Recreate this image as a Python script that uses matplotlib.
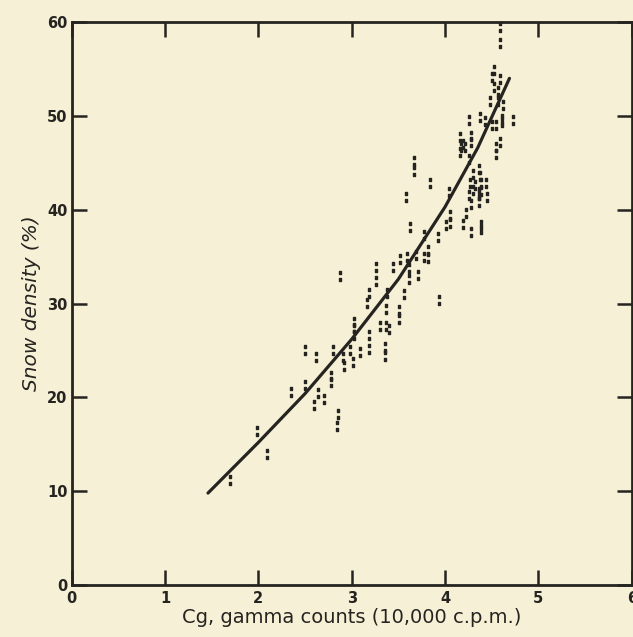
import matplotlib
matplotlib.use("Agg")
import matplotlib.pyplot as plt

# Valores (Cg en 10,000 c.p.m., densidad en %)
gamma_counts = [
    4.59, 4.59, 4.52, 4.50, 4.59, 4.52, 4.57, 4.48, 4.57, 4.62, 4.61, 4.37,
    4.26, 4.43, 4.61, 4.73, 4.50, 4.55, 4.16, 4.28, 4.19, 4.28, 4.17, 4.21,
    4.16, 4.55, 4.59, 4.55, 3.67, 4.26,
    3.67, 3.84, 3.58, 4.04, 4.30, 4.36, 4.37, 4.27, 4.32, 4.39, 4.44, 4.30,
    4.36, 4.39, 4.26, 4.28, 4.36, 4.45, 4.36, 4.05, 4.05, 4.01, 4.22, 4.19,
    4.38, 4.38, 4.28, 3.62, 3.77, 3.92, 3.82, 3.77, 3.82, 3.59, 3.52, 3.44,
    3.61, 3.71, 3.56, 3.93, 3.69, 3.61,
    2.87, 3.26, 3.26, 3.18, 3.16, 3.38, 3.37, 3.51, 3.51, 3.02, 3.02, 3.30,
    3.37, 3.40, 3.18, 3.02, 3.18, 3.36, 3.36, 2.50, 2.80, 2.62, 2.91, 2.98,
    3.09, 3.01, 2.92, 2.78, 2.78, 2.50,
    2.35, 2.64, 2.70, 2.60, 2.85, 2.84, 1.98, 2.09, 1.70,
]
snow_density = [
    59.5, 57.8, 54.9, 54.1, 53.9, 53.1, 52.7, 51.6, 51.6, 51.2, 49.7, 49.9,
    49.6, 49.5, 49.3, 49.6, 49.0, 49.0, 47.7, 47.9, 47.0, 47.2, 46.7, 46.7,
    46.1, 46.7, 47.2, 45.9, 45.2, 45.4,
    44.1, 42.8, 41.4, 41.9, 43.8, 44.3, 43.6, 42.8, 42.6, 42.8, 42.8, 42.1,
    41.9, 42.0, 41.6, 40.6, 41.6, 41.4, 40.8, 39.4, 38.6, 38.4, 39.6, 38.5,
    38.4, 37.9, 37.6, 38.2, 37.3, 37.1, 35.7, 35.0, 34.8, 35.0, 34.7, 33.9,
    32.6, 33.0, 31.0, 30.4, 35.2, 33.8,
    32.9, 33.9, 32.4, 31.1, 30.1, 31.1, 29.4, 29.3, 28.4, 28.0, 27.4, 27.6,
    27.6, 27.3, 26.6, 26.6, 25.2, 25.4, 24.4, 25.1, 25.1, 24.3, 24.3, 25.0,
    24.8, 23.8, 23.3, 22.3, 21.6, 21.3,
    20.6, 20.5, 19.8, 19.2, 18.2, 17.0, 16.4, 14.0, 11.2,
]

# Curva de regresión trazada en la figura
curve_x = [1.46, 2.00, 2.50, 3.00, 3.50, 4.00, 4.35, 4.69]
curve_y = [9.8, 15.2, 20.4, 26.2, 32.6, 40.3, 46.6, 54.0]

x_ticks = [0, 1, 2, 3, 4, 5, 6]
y_ticks = [0, 10, 20, 30, 40, 50, 60]

paper = "#f6f1d6"
ink = "#262420"

fig = plt.figure(figsize=(6.33, 6.37), dpi=100, facecolor=paper)
ax = fig.add_axes([0.1133, 0.0816, 0.8847, 0.8838], facecolor=paper)

ax.plot(curve_x, curve_y, color=ink, linewidth=2.3, solid_capstyle="round",
        solid_joinstyle="round")
ax.plot(gamma_counts, snow_density, linestyle="none", marker="$:$",
        markersize=6.5, color=ink)

ax.set_xlim(0, 6)
ax.set_ylim(0, 60)
ax.set_xticks(x_ticks)
ax.set_yticks(y_ticks)
ax.tick_params(direction="in", length=11, width=1.8, colors=ink,
               labelsize=10.5, top=True, right=True, pad=3)
ax.tick_params(axis="x", pad=4)
for lab in ax.get_xticklabels() + ax.get_yticklabels():
    lab.set_fontweight("bold")
for spine in ax.spines.values():
    spine.set_linewidth(2.0)
    spine.set_color(ink)

ax.set_xlabel("Cg, gamma counts (10,000 c.p.m.)", fontsize=14, color=ink,
              labelpad=2)
ax.set_ylabel("Snow density (%)", fontsize=14.5, color=ink, style="italic",
              labelpad=4)

fig.savefig("out.png", dpi=100, facecolor=paper)
